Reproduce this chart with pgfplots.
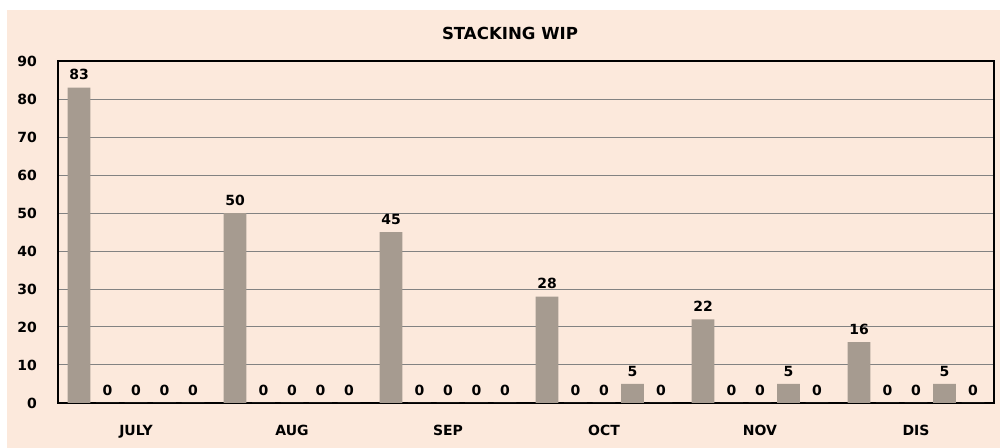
\documentclass[border=0pt]{standalone}
\usepackage{pgfplots}
\pgfplotsset{compat=1.18}
\usepackage{fontspec}
\setmainfont{DejaVu Sans}
\definecolor{bgbeige}{RGB}{252,233,220}
\definecolor{barfill}{RGB}{166,155,144}
\definecolor{gridgray}{RGB}{130,130,130}
\begin{document}
\begin{tikzpicture}
\fill[white] (0,0) rectangle (500pt,224pt);
\fill[bgbeige] (3.5pt,0) rectangle (500pt,219pt);
\node[font=\fontsize{8.3pt}{9pt}\selectfont\bfseries] at (255pt,207.5pt) {STACKING WIP};
\begin{axis}[
  at={(29pt,22.5pt)}, anchor=south west,
  scale only axis,
  width=468pt, height=171pt,
  xmin=-0.5, xmax=5.5,
  ymin=0, ymax=90,
  ytick={0,10,...,90},
  xtick={0,1,2,3,4,5},
  xticklabels={JULY,AUG,SEP,OCT,NOV,DIS},
  major tick length=0pt,
  ymajorgrids,
  grid style={gridgray, line width=0.5pt},
  axis line style={black, line width=0.8pt},
  tick label style={font=\fontsize{7pt}{8pt}\selectfont\bfseries},
  /pgf/number format/assume math mode=true,
  yticklabel style={xshift=-7pt},
  xticklabel style={yshift=-7.6pt},
  ybar,
  bar width=0.147,
  nodes near coords,
  every node near coord/.append style={font=\fontsize{7pt}{8pt}\selectfont\bfseries, anchor=south, yshift=0.3pt, black},
]
\addplot[fill=barfill, draw=none, bar shift=-0.3654] coordinates {(0,83) (1,50) (2,45) (3,28) (4,22) (5,16)};
\addplot[fill=barfill, draw=none, bar shift=-0.1827] coordinates {(0,0) (1,0) (2,0) (3,0) (4,0) (5,0)};
\addplot[fill=barfill, draw=none, bar shift=0] coordinates {(0,0) (1,0) (2,0) (3,0) (4,0) (5,0)};
\addplot[fill=barfill, draw=none, bar shift=0.1827] coordinates {(0,0) (1,0) (2,0) (3,5) (4,5) (5,5)};
\addplot[fill=barfill, draw=none, bar shift=0.3654] coordinates {(0,0) (1,0) (2,0) (3,0) (4,0) (5,0)};
\end{axis}
\pgfresetboundingbox
\path (0,0) rectangle (500pt,224pt);
\end{tikzpicture}
\end{document}
